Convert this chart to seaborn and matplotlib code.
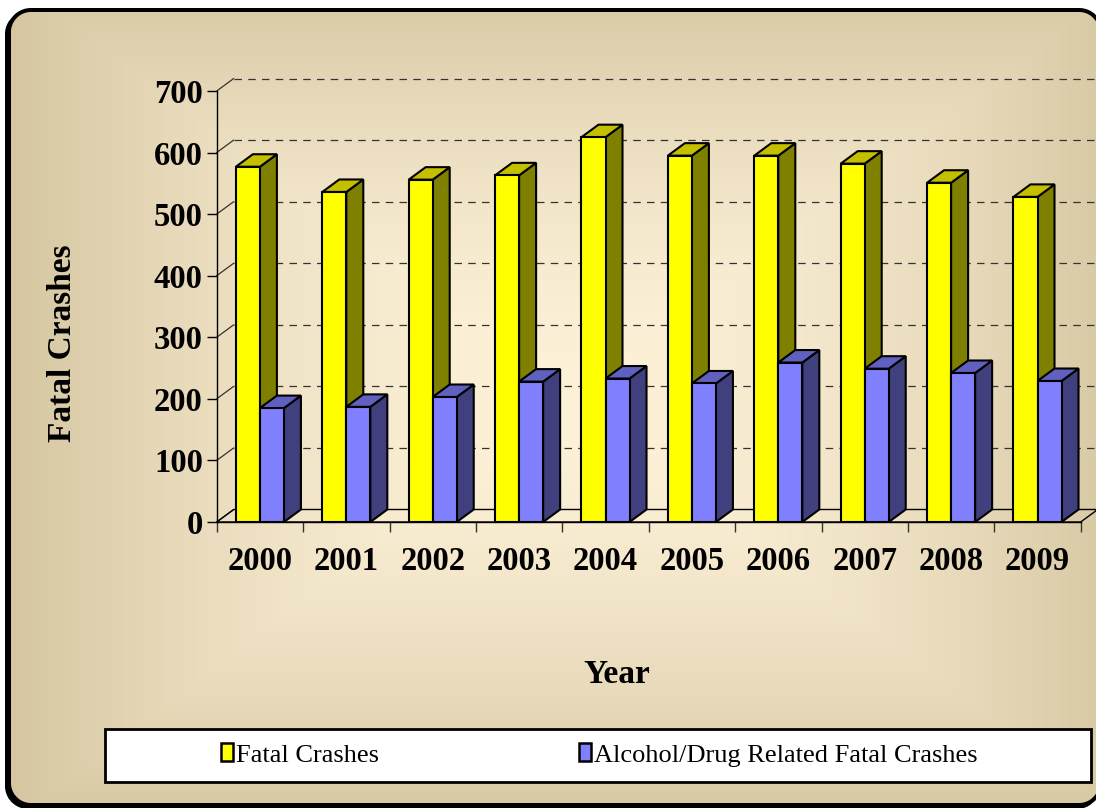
import numpy as np
import pandas as pd
import matplotlib
matplotlib.use("Agg")
import matplotlib.pyplot as plt
from matplotlib.patches import Rectangle, Polygon, Patch
import seaborn as sns

# values
years = ["2000", "2001", "2002", "2003", "2004", "2005", "2006", "2007", "2008", "2009"]
fatal_crashes = [577, 536, 556, 563, 625, 595, 595, 582, 551, 528]
alcohol_drug = [185, 187, 203, 228, 233, 225, 259, 249, 242, 229]
series_names = ["Fatal Crashes", "Alcohol/Drug Related Fatal Crashes"]
y_ticks = [0, 100, 200, 300, 400, 500, 600, 700]

# front / side / top shades per series
front_colors = ["#FFFF00", "#8080FF"]
side_colors = ["#808000", "#40407F"]
top_colors = ["#C4C000", "#6060C0"]

W, H = 1096, 808
sns.set_style("white")
plt.rcParams["font.family"] = ["Liberation Serif", "DejaVu Serif"]
for key in ["text.color", "axes.labelcolor", "xtick.color", "ytick.color"]:
    plt.rcParams[key] = "black"

fig = plt.figure(figsize=(W / 100, H / 100), dpi=100)


def rounded_rect_sdf(px, py, x0, y0, x1, y1, r):
    # signed distance to a rounded rectangle (negative inside)
    cx, cy = (x0 + x1) / 2, (y0 + y1) / 2
    hx, hy = (x1 - x0) / 2 - r, (y1 - y0) / 2 - r
    qx = np.abs(px - cx) - hx
    qy = np.abs(py - cy) - hy
    outside = np.hypot(np.maximum(qx, 0), np.maximum(qy, 0))
    return outside + np.minimum(np.maximum(qx, qy), 0) - r


# ---- background: rounded black frame with a tan-to-cream gradient inside
bg = fig.add_axes([0, 0, 1, 1], zorder=-1)
yy, xx = np.mgrid[0:H, 0:W] + 0.5
t = np.maximum(np.abs(xx - 570) / 570, np.abs(yy - 400) / 430)
t = np.clip(t, 0, 1) ** 1.7
c_mid = np.array([253, 241, 216]) / 255
c_edge = np.array([212, 197, 159]) / 255
fill = c_mid * (1 - t[..., None]) + c_edge * t[..., None]

d_frame = rounded_rect_sdf(xx, yy, 9, 10, 1101, 805, 22)
d_shadow = rounded_rect_sdf(xx, yy, 6, 12, 1099, 808, 22)
inner = np.clip(-d_frame - 1.5, 0, 1)[..., None]        # 1 well inside the frame
cover = np.maximum(np.clip(2.5 - d_frame, 0, 1), np.clip(1.5 - d_shadow, 0, 1))

rgba = np.zeros((H, W, 4))
rgba[..., :3] = fill * inner
rgba[..., 3] = cover
bg.imshow(rgba, extent=(0, W, H, 0), zorder=1, aspect="auto", interpolation="nearest")

# legend box
bg.add_patch(Rectangle((105, 729), 986, 53, facecolor="white", edgecolor="black",
                       linewidth=2, zorder=3))
bg.set_xlim(0, W)
bg.set_ylim(H, 0)
bg.axis("off")

# ---- main axes
left_px, right_px, bottom_px, top_px = 216.7, 1080.7, 522, 91
ax = fig.add_axes([left_px / W, 1 - bottom_px / H, (right_px - left_px) / W,
                   (bottom_px - top_px) / H])
ax.patch.set_alpha(0)

df = pd.DataFrame({
    "Year": years * 2,
    "Crashes": fatal_crashes + alcohol_drug,
    "Series": [series_names[0]] * len(years) + [series_names[1]] * len(years),
})

sns.barplot(data=df, x="Year", y="Crashes", hue="Series", palette=front_colors,
            width=0.556, saturation=1, edgecolor="black", linewidth=1.5,
            legend=False, ax=ax)

ax.set_xlim(-0.5, len(years) - 0.5)
ax.set_ylim(0, 700)

# depth offset of the 3D look, in data units
dx = 17 / ((right_px - left_px) / len(years))
dy = 12.5 / ((bottom_px - top_px) / 700)

for k, cont in enumerate(ax.containers):
    for bar in cont.patches:
        bar.set_zorder(3 + 2 * k)
        x0, w, h = bar.get_x(), bar.get_width(), bar.get_height()
        side = Polygon([(x0 + w, 0), (x0 + w + dx, dy), (x0 + w + dx, h + dy), (x0 + w, h)],
                       closed=True, facecolor=side_colors[k], edgecolor="black",
                       linewidth=1.5, zorder=2 + 2 * k, clip_on=False)
        top = Polygon([(x0, h), (x0 + w, h), (x0 + w + dx, h + dy), (x0 + dx, h + dy)],
                      closed=True, facecolor=top_colors[k], edgecolor="black",
                      linewidth=1.5, zorder=2 + 2 * k, clip_on=False)
        ax.add_patch(side)
        ax.add_patch(top)

# back wall gridlines and floor
x_lo, x_hi = -0.5, len(years) - 0.5
for v in y_ticks:
    ax.plot([x_lo, x_lo + dx], [v, v + dy], color="#333333", linewidth=0.9,
            zorder=1, clip_on=False)
    if v == 0:
        continue
    ax.plot([x_lo + dx, x_hi + dx], [v + dy, v + dy], color="#333333", linewidth=0.9,
            linestyle=(0, (6, 5)), zorder=1, clip_on=False)
floor = Polygon([(x_lo, 0), (x_hi, 0), (x_hi + dx, dy), (x_lo + dx, dy)], closed=True,
                facecolor="none", edgecolor="black", linewidth=1, zorder=1, clip_on=False)
ax.add_patch(floor)

for s in ["top", "right"]:
    ax.spines[s].set_visible(False)
for s in ["left", "bottom"]:
    ax.spines[s].set_color("black")
    ax.spines[s].set_linewidth(1)

ax.set_yticks(y_ticks)
ax.set_xticks(np.arange(len(years)))
ax.set_xticklabels(years)
ax.set_xticks(np.arange(len(years) + 1) - 0.5, minor=True)
ax.tick_params(axis="y", which="major", left=True, length=7, width=1, color="black",
               pad=3, labelsize=23.5)
ax.tick_params(axis="x", which="major", bottom=False, length=0, pad=17, labelsize=23.5)
ax.tick_params(axis="x", which="minor", bottom=True, length=7, width=1, color="#333333")
for lab in ax.get_xticklabels() + ax.get_yticklabels():
    lab.set_fontweight("bold")

ax.set_xlabel("Year", fontsize=24, fontweight="bold")
ax.xaxis.set_label_coords(0.463, -0.318)
ax.set_ylabel("Fatal Crashes", fontsize=24, fontweight="bold")
ax.yaxis.set_label_coords(-0.160, 0.415)

# legend inside the white box
handles = [Patch(facecolor=c, edgecolor="black", linewidth=1.8) for c in front_colors]
fig.legend(handles, series_names, loc="center left",
           bbox_to_anchor=(221 / W, 1 - 755 / H), ncol=2, frameon=False,
           prop={"family": "Liberation Serif", "size": 19},
           handlelength=0.45, handleheight=0.65, handletextpad=0.1,
           columnspacing=7.6, borderpad=0, borderaxespad=0)

fig.savefig("out.png", dpi=100)
